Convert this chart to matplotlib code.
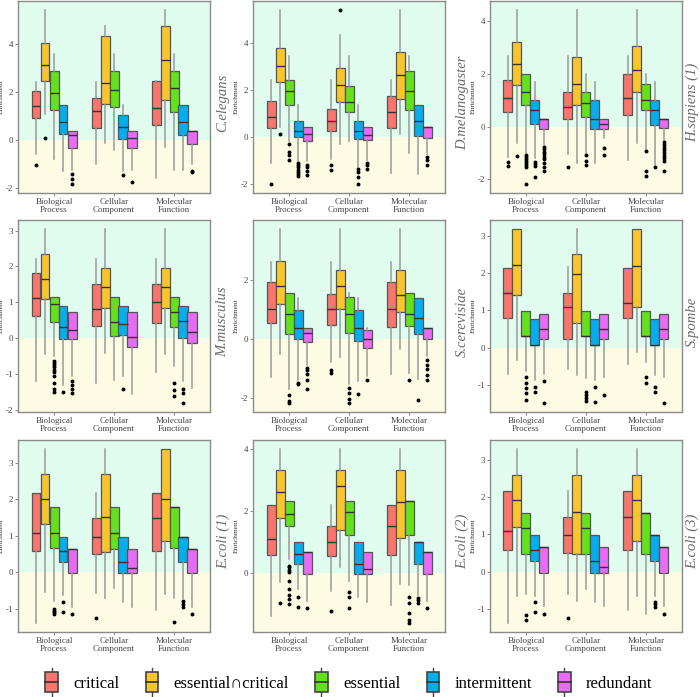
import numpy as np
import matplotlib.pyplot as plt
from matplotlib.patches import Rectangle, Patch
from matplotlib.lines import Line2D
from matplotlib.legend_handler import HandlerBase

plt.rcParams['font.family'] = ['Liberation Serif', 'DejaVu Serif']

# LABELS
categories = ["Biological\nProcess", "Cellular\nComponent", "Molecular\nFunction"]
groups = ["critical", "essential\u2229critical", "essential", "intermittent", "redundant"]
colors = ["#F8766D", "#F9C52E", "#63E11D", "#03AEEF", "#E76BF3"]
species = ["C.elegans", "D.melanogaster", "H.sapiens (1)",
           "M.musculus", "S.cerevisiae", "S.pombe",
           "E.coli (1)", "E.coli (2)", "E.coli (3)"]
yticks_list = [[-2, 0, 2, 4], [-2, 0, 2, 4], [-2, 0, 2, 4],
               [-2, -1, 0, 1, 2, 3], [-2, 0, 2], [-1, 0, 1, 2, 3],
               [-1, 0, 1, 2, 3], [0, 2, 4], [-1, 0, 1, 2, 3]]

# DATA: rows = category (BP, CC, MF), columns = group
# panel 1
p1_lo = [[-0.57, 1.08, -0.79, -1.26, -1.23], [-0.98, -0.10, -0.40, -1.30, -1.23], [-1.55, -0.30, -1.23, -1.23, -1.00]]
p1_q1 = [[0.91, 2.46, 1.26, 0.26, -0.33], [0.50, 1.49, 1.36, 0.06, -0.33], [0.64, 1.67, 1.16, 0.21, -0.18]]
p1_med = [[1.41, 3.11, 1.95, 0.75, 0.22], [1.22, 2.37, 2.09, 0.55, 0.10], [1.34, 3.33, 2.17, 0.75, 0.37]]
p1_q3 = [[2.05, 4.02, 2.88, 1.45, 0.37], [1.74, 4.33, 2.88, 1.04, 0.37], [2.46, 4.74, 2.88, 1.45, 0.37]]
p1_hi = [[2.43, 5.41, 3.57, 1.45, 0.37], [2.43, 4.72, 3.57, 1.45, 0.37], [2.43, 5.41, 3.57, 1.45, 0.37]]
p1_out = [[[-1.01], [0.08], [], [], [-1.40, -1.60, -1.83]],
          [[], [], [], [-1.45], [-1.73]],
          [[], [], [], [], [-1.27, -1.33]]]

# panel 2
p2_lo = [[-1.14, 0.43, -0.17, -1.03, -1.03], [-0.96, -0.29, -0.20, -1.31, -1.00], [-1.53, 0.14, -0.71, -1.60, -0.74]]
p2_q1 = [[0.39, 2.36, 1.37, 0.00, -0.19], [0.26, 1.50, 1.04, -0.11, -0.14], [0.39, 1.61, 1.14, 0.03, -0.07]]
p2_med = [[0.86, 3.01, 1.96, 0.26, 0.14], [0.66, 2.21, 1.50, 0.26, 0.07], [1.07, 2.66, 1.96, 0.66, 0.43]]
p2_q3 = [[1.54, 3.80, 2.44, 0.66, 0.43], [1.19, 2.93, 2.19, 0.66, 0.43], [1.76, 3.61, 2.79, 1.36, 0.43]]
p2_hi = [[2.44, 5.40, 3.47, 1.36, 0.43], [2.44, 4.33, 3.47, 1.36, 0.43], [2.44, 5.40, 3.47, 1.36, 0.43]]
p2_out = [[[-2.0], [0.11], [-0.31, -0.67, -0.77, -1.0], [-1.1, -1.2, -1.3, -1.4, -1.5, -1.6, -1.67], [-1.2, -1.31, -1.46, -1.63]],
          [[-1.21, -1.41], [5.43], [], [-1.39, -1.49, -1.74, -2.03], [-1.1, -1.2, -1.39]],
          [[], [], [], [], [-0.86, -1.0, -1.2]]]

# panel 3
p3_lo = [[-1.15, -0.63, -1.01, -1.20, -0.70], [-1.05, -1.37, -1.00, -1.39, -0.44], [-1.27, -0.61, -0.85, -1.46, -0.50]]
p3_q1 = [[0.56, 1.59, 0.80, 0.10, -0.11], [0.27, 0.83, 0.37, -0.09, -0.09], [0.42, 1.32, 0.64, 0.04, -0.05]]
p3_med = [[1.09, 2.38, 1.32, 0.61, 0.29], [0.75, 1.62, 0.90, 0.29, 0.11], [1.09, 2.15, 1.02, 0.61, 0.29]]
p3_q3 = [[1.78, 3.19, 2.00, 1.00, 0.29], [1.32, 2.63, 1.32, 1.00, 0.29], [2.01, 3.04, 1.62, 1.00, 0.29]]
p3_hi = [[2.68, 4.43, 2.00, 1.68, 0.29], [2.68, 4.43, 2.00, 1.68, 0.29], [2.68, 4.43, 2.00, 1.68, 0.29]]
p3_out = [[[-1.33, -1.49], [-1.1], [-1.08, -1.15, -1.22, -1.3, -1.38, -1.45, -1.55, -2.19], [-1.33, -1.42, -1.49, -1.9],
           [-0.76, -0.85, -0.95, -1.05, -1.15, -1.25, -1.4, -1.55, -1.67]],
          [[-1.52], [], [-1.08, -1.3, -1.46], [], [-0.8, -1.08]],
          [[], [], [-0.92, -1.67, -1.86], [-1.54], [-0.6, -0.7, -0.8, -0.9, -1.0, -1.1, -1.2, -1.3, -1.67]]]

# panel 4
p4_lo = [[-1.18, -0.45, -0.50, -1.29, -1.06], [-1.24, -0.41, -1.15, -1.06, -1.54], [-0.94, -0.45, -0.78, -1.19, -1.38]]
p4_q1 = [[0.61, 1.09, 0.46, -0.03, -0.02], [0.33, 0.84, 0.06, 0.08, -0.25], [0.42, 0.84, 0.31, 0.00, -0.13]]
p4_med = [[1.12, 1.66, 0.96, 0.31, 0.24], [0.82, 1.44, 0.45, 0.41, 0.04], [1.01, 1.44, 0.74, 0.49, 0.17]]
p4_q3 = [[1.81, 2.35, 1.15, 0.89, 0.73], [1.51, 1.95, 1.15, 0.89, 0.73], [1.52, 1.95, 1.15, 0.89, 0.73]]
p4_hi = [[2.20, 3.05, 1.15, 0.89, 0.73], [2.20, 3.05, 1.15, 0.89, 0.73], [2.20, 3.05, 1.15, 0.89, 0.73]]
p4_out = [[[], [], [-0.62, -0.68, -0.74, -0.8, -0.87, -0.95, -1.05, -1.25, -1.42, -1.5], [-1.51], [-1.19, -1.29, -1.4, -1.52]],
          [[], [], [], [-1.41], []],
          [[], [], [-1.24, -1.43, -1.61], [-1.4, -1.52, -1.81], []]]

# panel 5
p5_lo = [[-1.28, -0.51, -1.71, -1.40, -0.87], [-0.78, -0.62, -1.54, -1.43, -1.26], [-1.20, -0.36, -1.15, -1.37, -0.58]]
p5_q1 = [[0.53, 1.16, 0.16, 0.00, -0.12], [0.48, 1.02, 0.20, -0.08, -0.30], [0.40, 0.91, 0.44, 0.15, -0.02]]
p5_med = [[1.01, 1.78, 0.84, 0.37, 0.18], [1.01, 1.78, 0.84, 0.37, -0.02], [1.01, 1.47, 0.84, 0.70, 0.37]]
p5_q3 = [[1.92, 2.62, 1.55, 0.98, 0.37], [1.52, 2.34, 1.42, 0.98, 0.30], [1.92, 2.34, 1.55, 1.38, 0.37]]
p5_hi = [[2.60, 3.72, 1.55, 1.38, 0.37], [2.60, 3.72, 1.55, 1.38, 0.37], [2.60, 3.72, 1.55, 1.38, 0.37]]
p5_out = [[[], [], [-1.91, -2.1, -2.18], [-1.48, -1.53], [-1.0, -1.06, -1.2, -1.4, -1.69]],
          [[-1.06, -1.15], [], [-1.65, -1.82, -2.04, -2.18], [-1.88], [-1.39]],
          [[], [], [-1.39], [-2.08], [-0.73, -0.87, -1.01, -1.22, -1.4]]]

# panel 6
p6_lo = [[-0.71, -0.33, -0.62, -0.87, -0.71], [-0.59, -0.74, -0.82, -0.87, -0.80], [-0.44, -0.11, -0.40, -0.73, -0.80]]
p6_q1 = [[0.80, 1.42, 0.31, 0.06, 0.22], [0.24, 0.67, 0.31, 0.06, 0.22], [0.80, 1.10, 0.31, 0.06, 0.22]]
p6_med = [[1.48, 2.21, 0.31, 0.06, 0.51], [1.09, 1.99, 0.31, 0.06, 0.51], [1.21, 2.19, 0.31, 0.06, 0.51]]
p6_q3 = [[2.15, 3.20, 0.99, 0.76, 0.90], [1.47, 2.53, 0.99, 0.76, 0.90], [2.15, 3.20, 0.99, 0.76, 0.90]]
p6_hi = [[2.15, 3.20, 0.99, 0.76, 0.90], [2.17, 3.20, 0.99, 0.76, 0.90], [2.15, 3.20, 0.99, 0.76, 0.90]]
p6_out = [[[], [], [-0.8, -0.95, -1.09, -1.22, -1.41], [-1.05, -1.2], [-0.89, -1.5]],
          [[], [], [-1.2, -1.28, -1.36, -1.43], [-1.05, -1.46], [-1.29]],
          [[], [], [-0.8, -0.96], [-1.05, -1.2], [-1.5]]]

# panel 7
p7_lo = [[-1.40, -0.55, -0.79, -0.62, -0.94], [-0.58, -0.70, -0.44, -0.81, -0.94], [-1.04, -0.61, -0.72, -0.72, -0.94]]
p7_q1 = [[0.57, 1.32, 0.66, 0.28, -0.03], [0.51, 0.55, 0.64, -0.03, -0.03], [0.57, 0.86, 0.66, 0.28, -0.03]]
p7_med = [[1.07, 2.02, 1.07, 0.57, 0.64], [0.98, 1.53, 1.07, 0.29, 0.13], [1.49, 2.02, 1.78, 0.98, 0.64]]
p7_q3 = [[2.17, 2.70, 1.78, 0.98, 0.64], [1.49, 2.70, 1.78, 0.98, 0.64], [2.17, 3.39, 1.78, 0.98, 0.64]]
p7_hi = [[2.17, 3.39, 1.78, 0.98, 0.64], [2.17, 3.39, 1.78, 0.98, 0.64], [2.17, 3.39, 1.78, 0.98, 0.64]]
p7_out = [[[], [], [-1.01, -1.06, -1.1, -1.15], [-0.81, -1.1], [-1.14]],
          [[-1.25], [], [], [], []],
          [[], [], [-1.36], [-0.8, -0.88, -0.95], [-1.14]]]

# panel 8
p8_lo = [[-1.38, -0.30, 0.45, -0.53, -0.90], [-0.59, 0.18, -0.27, -0.78, -0.94], [-1.03, -0.37, -0.40, -0.70, -0.90]]
p8_q1 = [[0.59, 1.76, 1.51, 0.30, -0.02], [0.53, 1.38, 1.21, -0.02, -0.02], [0.59, 1.12, 1.21, 0.30, -0.02]]
p8_med = [[1.10, 2.60, 1.91, 0.61, 0.68], [1.00, 2.79, 1.95, 0.30, 0.14], [1.51, 2.27, 2.32, 1.00, 0.68]]
p8_q3 = [[2.20, 3.30, 2.32, 1.00, 0.68], [1.51, 3.30, 2.32, 1.00, 0.68], [2.20, 3.30, 2.32, 1.00, 0.68]]
p8_hi = [[2.20, 4.00, 2.32, 1.00, 0.68], [2.20, 4.00, 2.32, 1.00, 0.68], [2.20, 4.00, 2.32, 1.00, 0.68]]
p8_out = [[[], [-0.96], [0.24, 0.18, 0.11, 0.03, -0.27, -0.51, -0.71, -0.83, -1.01], [-0.78, -1.09], [-1.12]],
          [[-1.24], [], [-0.61, -0.78, -1.12], [], []],
          [[], [], [-0.78, -0.96, -1.28, -1.52, -1.62], [-0.8, -0.87, -0.96], [-1.12]]]

# panel 9
p9_lo = [[-1.39, -0.66, -0.61, -0.65, -0.93], [-0.61, -0.79, -0.48, -0.81, -0.93], [-1.04, -0.66, -1.13, -0.65, -0.93]]
p9_q1 = [[0.57, 1.21, 0.48, 0.29, -0.04], [0.50, 0.46, 0.48, -0.04, -0.04], [0.57, 0.82, 0.48, 0.29, -0.04]]
p9_med = [[1.08, 1.91, 1.18, 0.57, 0.66], [0.97, 1.60, 1.18, 0.29, 0.12], [1.46, 1.91, 1.58, 0.97, 0.66]]
p9_q3 = [[2.16, 2.60, 1.58, 0.97, 0.66], [1.46, 2.60, 1.58, 0.97, 0.66], [2.16, 2.60, 1.58, 0.97, 0.66]]
p9_hi = [[2.16, 3.30, 1.58, 0.97, 0.66], [2.16, 3.30, 1.58, 0.97, 0.66], [2.16, 3.30, 1.58, 0.97, 0.66]]
p9_out = [[[], [], [-1.17, -1.3], [-0.81, -1.1], [-1.13]],
          [[-1.24], [], [], [], []],
          [[], [], [], [-0.81, -0.88, -0.95], [-1.13]]]

panels = [
    (p1_lo, p1_q1, p1_med, p1_q3, p1_hi, p1_out),
    (p2_lo, p2_q1, p2_med, p2_q3, p2_hi, p2_out),
    (p3_lo, p3_q1, p3_med, p3_q3, p3_hi, p3_out),
    (p4_lo, p4_q1, p4_med, p4_q3, p4_hi, p4_out),
    (p5_lo, p5_q1, p5_med, p5_q3, p5_hi, p5_out),
    (p6_lo, p6_q1, p6_med, p6_q3, p6_hi, p6_out),
    (p7_lo, p7_q1, p7_med, p7_q3, p7_hi, p7_out),
    (p8_lo, p8_q1, p8_med, p8_q3, p8_hi, p8_out),
    (p9_lo, p9_q1, p9_med, p9_q3, p9_hi, p9_out),
]

# STYLE
mint = "#e0fcef"
cream = "#fdfbe3"
frame = "#8a8a8a"
n_grp = len(groups)
box_w = 0.15
offsets = (np.arange(n_grp) - (n_grp - 1) / 2) * box_w

W, H = 700, 697
col_left = [18, 253, 490]
row_top = [1, 220, 440]
pw, ph = 192, 192
label_x = [1.068, 1.09, 1.052]

fig = plt.figure(figsize=(7.0, 6.97), dpi=100)

for i, (lo, q1, med, q3, hi, out) in enumerate(panels):
    r, c = divmod(i, 3)
    ax = fig.add_axes([col_left[c] / W, 1 - (row_top[r] + ph) / H, pw / W, ph / H])

    # y range like ggplot: data range expanded by 5%
    vals = np.concatenate([np.ravel(lo), np.ravel(hi)] +
                          [np.array(o, dtype=float) for row in out for o in row])
    vmin, vmax = vals.min(), vals.max()
    pad = 0.05 * (vmax - vmin)
    y0, y1 = vmin - pad, vmax + pad

    ax.axhspan(0, y1, color=mint, zorder=0, lw=0)
    ax.axhspan(y0, 0, color=cream, zorder=0, lw=0)

    for g in range(n_grp):
        stats = []
        for k in range(len(categories)):
            stats.append(dict(whislo=lo[k][g], q1=q1[k][g], med=med[k][g],
                              q3=q3[k][g], whishi=hi[k][g], fliers=out[k][g]))
        pos = np.arange(1, len(categories) + 1) + offsets[g]
        ax.bxp(stats, positions=pos, widths=box_w, patch_artist=True, showcaps=False,
               boxprops=dict(facecolor=colors[g], edgecolor="#555555", lw=0.9),
               whiskerprops=dict(color="#9a9a9a", lw=1.1),
               medianprops=dict(color="#333333", lw=1.0),
               flierprops=dict(marker="o", markersize=1.8, markerfacecolor="black",
                               markeredgecolor="black", lw=0),
               zorder=2)

    ax.set_xlim(0.4, 3.6)
    ax.set_ylim(y0, y1)
    ax.set_xticks(np.arange(1, len(categories) + 1))
    ax.set_xticklabels(categories, fontsize=6.5, color="#444444", linespacing=1.0)
    ax.set_yticks(yticks_list[i])
    ax.set_yticklabels([str(t) for t in yticks_list[i]], fontsize=6.5, color="#444444")
    ax.tick_params(axis="both", length=2, width=0.6, color="#777777", pad=1.5)
    ax.set_ylabel("Enrichment", fontsize=5.3, color="#333333")
    ax.yaxis.set_label_coords(-0.072, 0.5)
    for s in ax.spines.values():
        s.set_color(frame)
        s.set_linewidth(1.0)

    ax.text(label_x[c], 0.47, species[i], transform=ax.transAxes, rotation=90,
            ha="center", va="center", fontsize=10.5, style="italic", color="#6a6a6a")


# LEGEND
class BoxHandler(HandlerBase):
    def create_artists(self, legend, orig_handle, xdescent, ydescent, width, height, fontsize, trans):
        x0, y0 = -xdescent, -ydescent
        cx = x0 + width / 2
        bw = width * 0.75
        box = Rectangle((cx - bw / 2, y0 - height * 0.15), bw, height * 1.3,
                        facecolor=orig_handle.get_facecolor(), edgecolor="#444444",
                        lw=1.2, transform=trans)
        midl = Line2D([cx - bw / 2, cx + bw / 2], [y0 + height / 2] * 2, color="#333333",
                      lw=1.2, transform=trans)
        top = Line2D([cx, cx], [y0 + height * 1.15, y0 + height * 1.45], color="#444444",
                     lw=1.0, transform=trans)
        bot = Line2D([cx, cx], [y0 - height * 0.15, y0 - height * 0.45], color="#444444",
                     lw=1.0, transform=trans)
        return [top, bot, box, midl]


handles = [Patch(facecolor=col) for col in colors]
fig.legend(handles, groups, handler_map={Patch: BoxHandler()}, loc="center",
           bbox_to_anchor=(0.497, 0.02), ncol=5, frameon=False, fontsize=12,
           handlelength=1.0, handleheight=1.0, handletextpad=0.8, columnspacing=1.45)

fig.savefig("out.png", dpi=100)
